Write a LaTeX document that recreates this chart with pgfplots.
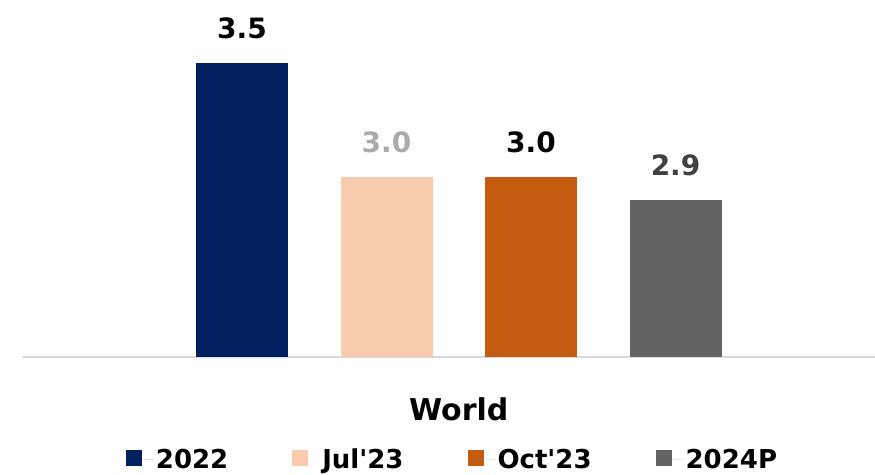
\documentclass[border=0pt]{standalone}
\usepackage{pgfplots}
\pgfplotsset{compat=1.18}
\usepackage{fontspec}
\setmainfont{DejaVu Sans}
\definecolor{cNavy}{HTML}{002060}
\definecolor{cPeach}{HTML}{F8CBAD}
\definecolor{cOrange}{HTML}{C55A11}
\definecolor{cGray}{HTML}{636363}
\definecolor{lGray}{HTML}{ABABAB}
\definecolor{dGray}{HTML}{404040}
\definecolor{axGray}{HTML}{D9D9D9}
\begin{document}
\begin{tikzpicture}
\begin{axis}[
  scale only axis,
  width=853pt, height=357pt,
  xmin=-0.522, xmax=5.38,
  ymin=2.21, ymax=3.776,
  clip=false,
  axis y line=none,
  axis x line*=bottom,
  x axis line style={axGray, line width=2.5pt, -},
  xtick=\empty, ytick=\empty,
  ybar, bar width=92pt, bar shift=0pt,
  every axis plot/.append style={draw=none},
  /pgf/number format/assume math mode=true,
  nodes near coords={\pgfmathprintnumber[fixed,fixed zerofill,precision=1,assume math mode=true]{\pgfplotspointmeta}},
  nodes near coords style={font=\fontsize{28}{30}\selectfont\bfseries, anchor=south, inner sep=0pt, yshift=24pt},
  legend columns=4,
  legend style={draw=none, fill=none, inner sep=0pt, font=\fontsize{26}{28}\selectfont\bfseries,
    at={(axis description cs:0.5,0)}, anchor=north, yshift=-90pt, xshift=4pt,
    /tikz/every even column/.append style={column sep=62pt}},
  legend cell align=left,
  legend image code/.code={\fill[#1] (0pt,-6pt) rectangle (16pt,10pt); \path (0pt,0pt) -- (28pt,0pt);},
]
\addplot[fill=cNavy, nodes near coords style={text=black}] coordinates {(1,3.5)};
\addlegendentry{2022}
\addplot[fill=cPeach, nodes near coords style={text=lGray}] coordinates {(2,3.0)};
\addlegendentry{Jul\textquotesingle 23}
\addplot[fill=cOrange, nodes near coords style={text=black}] coordinates {(3,3.0)};
\addlegendentry{Oct\textquotesingle 23}
\addplot[fill=cGray, nodes near coords style={text=dGray}] coordinates {(4,2.9)};
\addlegendentry{2024P}
\node[anchor=base, font=\fontsize{30}{32}\selectfont\bfseries, inner sep=0pt] at ([yshift=-63pt]axis cs:2.5,2.21) {World};
\end{axis}
\pgfresetboundingbox
\path[use as bounding box] (-22pt,-117pt) rectangle (853pt,357pt);
\end{tikzpicture}
\end{document}
